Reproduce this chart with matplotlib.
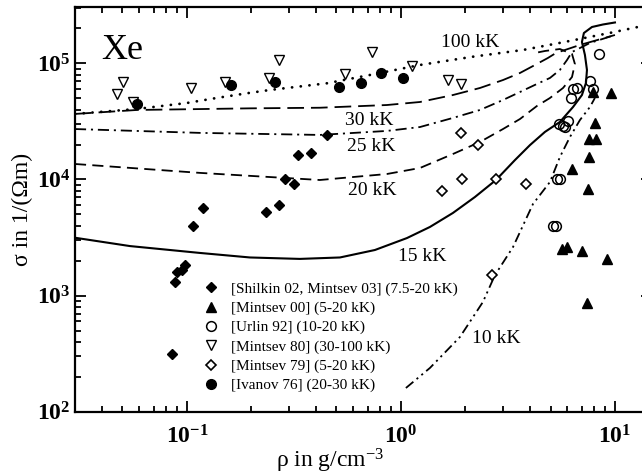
import matplotlib

matplotlib.use("Agg")
import matplotlib.pyplot as plt
from matplotlib.ticker import LogLocator, NullFormatter

# measured points (density g/cm^3, conductivity 1/(Ohm m))
rho_shilkin = [0.0848, 0.0884, 0.0903, 0.0953, 0.0984, 0.107, 0.119, 0.233, 0.268, 0.286, 0.318, 0.329, 0.380, 0.452]
sigma_shilkin = [313, 1300, 1610, 1660, 1840, 4000, 5720, 5280, 6030, 10000, 9110, 16400, 17000, 24200]

rho_mintsev00 = [9.58, 7.87, 8.11, 7.59, 8.15, 7.54, 6.30, 7.52, 5.65, 6.00, 6.99, 9.15, 7.38]
sigma_mintsev00 = [55900, 57000, 30500, 22400, 22400, 15600, 12400, 8330, 2500, 2620, 2410, 2050, 863]

rho_urlin = [8.42, 7.64, 7.87, 6.34, 6.68, 6.21, 6.03, 5.49, 5.70, 5.84, 5.36, 5.53, 5.16, 5.33]
sigma_urlin = [120500, 70500, 60200, 59800, 60800, 50400, 32100, 30000, 28900, 28200, 10000, 10000, 3980, 3980]

rho_mintsev80 = [0.0469, 0.0501, 0.0561, 0.105, 0.1505, 0.243, 0.270, 0.547, 0.736, 1.122, 1.658, 1.913]
sigma_mintsev80 = [54200, 69500, 46200, 61000, 69500, 75300, 108000, 81800, 126000, 95000, 71900, 67100]

rho_mintsev79 = [1.55, 1.90, 1.93, 2.28, 2.78, 3.83, 2.65]
sigma_mintsev79 = [8010, 25000, 10000, 19800, 10000, 9060, 1500]

rho_ivanov = [0.0582, 0.1606, 0.2586, 0.516, 0.650, 0.806, 1.025]
sigma_ivanov = [44700, 65200, 68700, 63000, 67400, 82200, 75300]

# theory isotherms
rho_100kK = [0.030, 0.0584, 0.100, 0.138, 0.191, 0.244, 0.451, 0.756, 1.227, 2.17, 3.72, 5.72, 9.79, 14.9]
sigma_100kK = [36700, 40500, 45600, 50400, 55300, 59000, 67400, 81000, 96900, 114200, 130500, 152000, 185300, 218500]

rho_30kK = [0.030, 0.0584, 0.197, 0.418, 0.860, 1.227, 1.75, 2.34, 3.0, 3.60, 4.23, 4.86, 5.30, 6.86, 10.0]
sigma_30kK = [36700, 39700, 41000, 41500, 43800, 46500, 53400, 61400, 71900, 82700, 96900, 111300, 122900, 144100, 175600]

rho_25kK = [0.030, 0.115, 0.418, 0.860, 1.227, 1.75, 2.34, 3.0, 3.60, 4.32, 4.97, 5.53, 5.97, 6.30, 7.64, 10.0]
sigma_25kK = [27200, 25200, 24200, 26200, 28300, 33900, 39700, 48400, 56700, 66500, 74900, 87800, 106900, 125300, 149900, 175600]

rho_20kK = [0.030, 0.115, 0.418, 0.860, 1.227, 1.75, 2.34, 3.0, 3.60, 4.32, 4.97, 5.72, 6.30, 6.50, 6.30, 5.53, 4.71, 4.23]
sigma_20kK = [13600, 11400, 9900, 11150, 12560, 16580, 21040, 27220, 33190, 42970, 50350, 61390, 76370, 98800, 120500, 133000, 127900, 122900]

rho_15kK = [0.030, 0.0542, 0.115, 0.197, 0.337, 0.519, 0.756, 1.067, 1.366, 1.750, 2.218, 2.78, 3.41, 4.01, 4.71,
            5.53, 6.37, 7.01, 7.32, 7.40, 7.24, 7.01, 7.16, 7.81, 8.79, 10.0]
sigma_15kK = [3150, 2670, 2330, 2130, 2070, 2130, 2470, 3130, 3900, 5150, 7070, 9900, 14700, 19800, 25700,
              31300, 42100, 53400, 67800, 87800, 118200, 152900, 182700, 205800, 216300, 225100]

rho_10kK = [1.055, 1.366, 1.887, 2.416, 2.75, 3.34, 4.14, 4.97, 5.53, 6.16, 6.86, 7.64, 8.06]
sigma_10kK = [160, 238, 440, 881, 1500, 2620, 6150, 9520, 15600, 23200, 32500, 42100, 50400]

plt.rcParams["font.family"] = ["Liberation Serif", "DejaVu Serif"]
plt.rcParams["mathtext.fontset"] = "custom"
plt.rcParams["mathtext.rm"] = "Liberation Serif"
plt.rcParams["mathtext.it"] = "Liberation Serif"
plt.rcParams["mathtext.bf"] = "Liberation Serif:bold"
plt.rcParams["lines.scale_dashes"] = False

fig = plt.figure(figsize=(6.42, 4.76), dpi=100)
ax = fig.add_axes([0.1168, 0.1351, 0.8988, 0.8502])

ink = "black"
ax.plot(rho_100kK, sigma_100kK, color=ink, lw=2.0, dashes=(0.1, 6.2), dash_capstyle="round")
ax.plot(rho_30kK, sigma_30kK, color=ink, lw=1.3, dashes=(12, 5))
ax.plot(rho_25kK, sigma_25kK, color=ink, lw=1.3, dashes=(8, 3.5, 1.5, 3.5))
ax.plot(rho_20kK, sigma_20kK, color=ink, lw=1.3, dashes=(8, 4.5))
ax.plot(rho_15kK, sigma_15kK, color=ink, lw=1.5)
ax.plot(rho_10kK, sigma_10kK, color=ink, lw=1.3, dashes=(7, 3, 1.5, 3, 1.5, 3))

mk = dict(linestyle="none", color=ink)
ax.plot(rho_shilkin, sigma_shilkin, marker="D", ms=5.2, mfc=ink, mec=ink, label="[Shilkin 02, Mintsev 03] (7.5-20 kK)", **mk)
ax.plot(rho_mintsev00, sigma_mintsev00, marker="^", ms=7, mfc=ink, mec=ink, label="[Mintsev 00] (5-20 kK)", **mk)
ax.plot(rho_urlin, sigma_urlin, marker="o", ms=7, mfc="none", mec=ink, mew=1.1, label="[Urlin 92] (10-20 kK)", **mk)
ax.plot(rho_mintsev80, sigma_mintsev80, marker="v", ms=7.5, mfc="none", mec=ink, mew=1.0, label="[Mintsev 80] (30-100 kK)", **mk)
ax.plot(rho_mintsev79, sigma_mintsev79, marker="D", ms=4.6, mfc="white", mec=ink, mew=1.2, label="[Mintsev 79] (5-20 kK)", **mk)
ax.plot(rho_ivanov, sigma_ivanov, marker="o", ms=7, mfc=ink, mec=ink, label="[Ivanov 76] (20-30 kK)", **mk)

ax.set_xscale("log")
ax.set_yscale("log")
ax.set_xlim(0.03, 14.9)
ax.set_ylim(100, 3.06e5)

ax.set_xticks([0.1, 1, 10], labels=[r"$\mathbf{10^{-1}}$", r"$\mathbf{10^{0}}$", r"$\mathbf{10^{1}}$"])
ax.set_yticks([1e2, 1e3, 1e4, 1e5],
              labels=[r"$\mathbf{10^{2}}$", r"$\mathbf{10^{3}}$", r"$\mathbf{10^{4}}$", r"$\mathbf{10^{5}}$"])
for axis in (ax.xaxis, ax.yaxis):
    axis.set_minor_locator(LogLocator(base=10, subs=range(2, 10), numticks=20))
    axis.set_minor_formatter(NullFormatter())
ax.tick_params(which="both", direction="in", top=True, right=True, width=1.3, colors=ink)
ax.tick_params(which="major", length=8, labelsize=17)
ax.tick_params(which="minor", length=4.5)
ax.tick_params(axis="x", which="major", pad=10)
ax.tick_params(axis="y", which="major", pad=3)
for sp in ax.spines.values():
    sp.set_linewidth(1.6)

ax.set_xlabel(r"ρ in g/cm$^{-3}$", fontsize=17)
ax.set_ylabel("σ in 1/(Ωm)", fontsize=17)
ax.xaxis.set_label_coords((330 - 75) / 577, -0.087)
ax.yaxis.set_label_coords((33 - 75) / 577, 0.5)

ax.text(0.0497, 1.30e5, "Xe", fontsize=26, ha="center", va="center")
for x, y, s in [(2.10, 1.50e5, "100 kK"), (0.709, 3.25e4, "30 kK"), (0.724, 1.94e4, "25 kK"),
                (0.732, 7.96e3, "20 kK"), (1.254, 2.15e3, "15 kK"), (2.78, 423, "10 kK")]:
    ax.text(x, y, s, fontsize=14, ha="center", va="center")

ax.legend(loc="upper left", bbox_to_anchor=(0.3173, 0.408), bbox_transform=fig.transFigure,
          frameon=False, fontsize=11, borderpad=0, borderaxespad=0, handlelength=0.95,
          handletextpad=0.85, labelspacing=0.36, numpoints=1)

fig.savefig("out.png", dpi=100)
